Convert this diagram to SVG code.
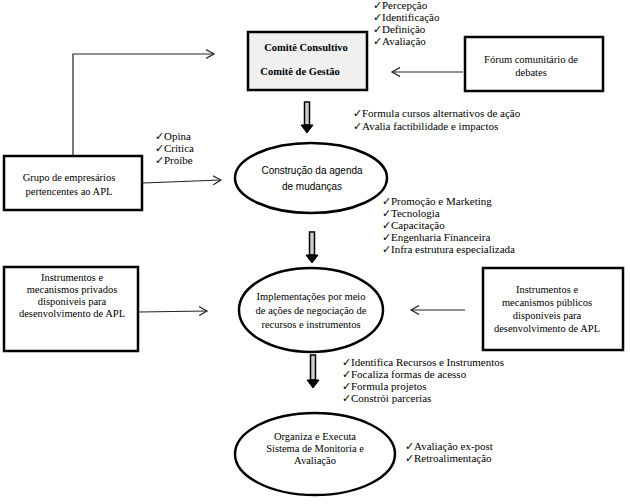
<svg xmlns="http://www.w3.org/2000/svg" width="630" height="504" viewBox="0 0 630 504">
<defs>
<style>
.box{fill:#fff;stroke:#000;stroke-width:2.5}
.gray{fill:#f0f0f0}
.ell{fill:#fff;stroke:#000;stroke-width:2.5}
.t{font-family:"Liberation Serif","Times New Roman",serif;font-size:10.5px;fill:#000}
.l{font-family:"Liberation Serif","Times New Roman",serif;font-size:11px;fill:#000}
.tb{font-family:"Liberation Serif","Times New Roman",serif;font-size:10.5px;font-weight:bold;fill:#000}
.ts{font-family:"Liberation Sans",Arial,sans-serif;font-size:10px;fill:#000}
.c{text-anchor:middle}
.ln{fill:none;stroke:#222;stroke-width:1.2}
.shaft{fill:#ccc;stroke:#000;stroke-width:1.5}
.head{fill:#000;stroke:#000;stroke-width:1}
</style>
<marker id="open" markerWidth="10" markerHeight="10" refX="8" refY="5" orient="auto" markerUnits="userSpaceOnUse">
<path d="M0,0.5 L8,5 L0,9.5" fill="none" stroke="#222" stroke-width="1.2"/>
</marker>
</defs>
<rect width="630" height="504" fill="#fff"/>

<g id="connectors">
<path class="ln" d="M73,155 L73,54 L214,54" marker-end="url(#open)"/>
<path class="ln" d="M143,183 L221,180" marker-end="url(#open)"/>
<path class="ln" d="M463,72 L392,72" marker-end="url(#open)"/>
<path class="ln" d="M139,312 L207,311" marker-end="url(#open)"/>
<path class="ln" d="M465,310 L411,310" marker-end="url(#open)"/>
<g id="thick1"><rect class="shaft" x="304.5" y="102" width="5" height="23"/><path class="head" d="M301,125 L313,125 L307,133 Z"/></g>
<g id="thick2"><rect class="shaft" x="309.5" y="232" width="5" height="23"/><path class="head" d="M306,255 L318,255 L312,263 Z"/></g>
<g id="thick3"><rect class="shaft" x="310.5" y="355" width="5" height="25"/><path class="head" d="M307,380 L319,380 L313,388 Z"/></g>
</g>

<g id="comite">
<rect class="box gray" x="248" y="32" width="119" height="58"/>
<text class="tb c" x="306" y="51">Comitê  Consultivo</text>
<text class="tb c" x="300" y="75">Comitê  de Gestão</text>
</g>

<g id="forum">
<rect class="box" x="465" y="37" width="138" height="54"/>
<text class="t c" x="531" y="63">Fórum comunitário  de</text>
<text class="t c" x="531" y="76">debates</text>
</g>

<g id="grupo">
<rect class="box" x="4" y="156" width="138" height="54"/>
<text class="t c" x="69" y="181">Grupo  de empresários</text>
<text class="t c" x="69" y="195">pertencentes ao APL</text>
</g>

<g id="agenda">
<ellipse class="ell" cx="311" cy="178" rx="76" ry="35"/>
<text class="ts c" x="312" y="174">Construção da agenda</text>
<text class="ts c" x="312" y="190">de mudanças</text>
</g>

<g id="privados">
<rect class="box" x="4" y="267" width="134" height="84"/>
<text class="t c" x="72" y="281">Instrumentos e</text>
<text class="t c" x="72" y="293">mecanismos  privados</text>
<text class="t c" x="72" y="305">disponiveis para</text>
<text class="t c" x="72" y="317">desenvolvimento de APL</text>
</g>

<g id="implementacoes">
<ellipse class="ell" cx="311" cy="310" rx="72" ry="42"/>
<text class="t c" x="311" y="300">Implementações  por meio</text>
<text class="t c" x="311" y="314">de ações de negociação de</text>
<text class="t c" x="311" y="328">recursos e instrumentos</text>
</g>

<g id="publicos">
<rect class="box" x="483" y="268" width="140" height="82"/>
<text class="t c" x="547" y="293">Instrumentos e</text>
<text class="t c" x="547" y="306">mecanismos  públicos</text>
<text class="t c" x="547" y="319">disponiveis para</text>
<text class="t c" x="547" y="332">desenvolvimento de APL</text>
</g>

<g id="monitoria">
<ellipse class="ell gray" cx="315" cy="454" rx="80" ry="41"/>
<text class="t c" x="315" y="440">Organiza  e Executa</text>
<text class="t c" x="315" y="452">Sistema  de Monitoria e</text>
<text class="t c" x="315" y="464">Avaliação</text>
</g>

<g id="list-comite">
<text class="l" x="373" y="9">✓Percepção</text>
<text class="l" x="373" y="21">✓Identificação</text>
<text class="l" x="373" y="33">✓Definição</text>
<text class="l" x="373" y="45">✓Avaliação</text>
</g>

<g id="list-formula">
<text class="l" x="353" y="117">✓Formula  cursos alternativos de ação</text>
<text class="l" x="353" y="130">✓Avalia factibilidade  e impactos</text>
</g>

<g id="list-grupo">
<text class="l" x="155" y="140">✓Opina</text>
<text class="l" x="155" y="152">✓Crítica</text>
<text class="l" x="155" y="164">✓Proíbe</text>
</g>

<g id="list-agenda">
<text class="l" x="382" y="205">✓Promoção  e  Marketing</text>
<text class="l" x="382" y="217">✓Tecnologia</text>
<text class="l" x="382" y="229">✓Capacitação</text>
<text class="l" x="382" y="241">✓Engenharia Financeira</text>
<text class="l" x="382" y="253">✓Infra estrutura especializada</text>
</g>

<g id="list-impl">
<text class="l" x="342" y="366">✓Identifica Recursos e Instrumentos</text>
<text class="l" x="342" y="378">✓Focaliza  formas  de acesso</text>
<text class="l" x="342" y="390">✓Formula  projetos</text>
<text class="l" x="342" y="402">✓Constrói parcerias</text>
</g>

<g id="list-monitoria">
<text class="l" x="405" y="450">✓Avaliação ex-post</text>
<text class="l" x="405" y="462">✓Retroalimentação</text>
</g>
</svg>
